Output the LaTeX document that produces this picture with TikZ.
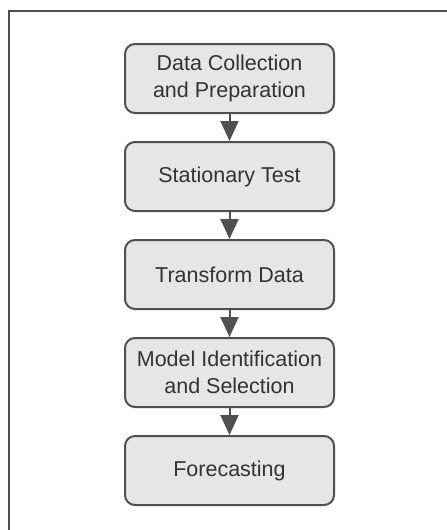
\documentclass[tikz,border=0pt]{standalone}
\usepackage{fontspec}
\setmainfont{Liberation Sans}
\usetikzlibrary{arrows.meta}
\definecolor{edge}{HTML}{505050}
\definecolor{boxfill}{HTML}{E6E6E6}
\definecolor{ink}{HTML}{333333}
\tikzset{
  stage/.style={draw=edge, line width=2pt, fill=boxfill, rounded corners=10pt,
    minimum width=209pt, minimum height=69pt, align=center, text=ink,
    inner sep=0pt, font=\fontsize{21.5pt}{27pt}\selectfont},
  flow/.style={draw=edge, line width=2pt,
    -{Triangle[width=18pt,length=20pt]}, shorten >=0pt}
}
\begin{document}
\begin{tikzpicture}[x=1pt,y=-1pt]
  \useasboundingbox (0,0) rectangle (447,530);
  % partial frame: left and top edges
  \coordinate (fbl) at (9,530);
  \coordinate (ftl) at (9,11);
  \coordinate (ftr) at (447,11);
  \draw[edge, line width=2pt] (fbl) -- (ftl) -- (ftr);

  \node[stage] (collect)  at (229.5,78.5)  {Data Collection\\and Preparation};
  \node[stage] (station)  at (229.5,176.5) {Stationary Test};
  \node[stage] (transform) at (229.5,274.5) {Transform Data};
  \node[stage] (model)    at (229.5,372.5) {Model Identification\\and Selection};
  \node[stage] (forecast) at (229.5,470.5) {Forecasting};

  \draw[flow] (collect) -- (station);
  \draw[flow] (station) -- (transform);
  \draw[flow] (transform) -- (model);
  \draw[flow] (model) -- (forecast);
\end{tikzpicture}
\end{document}
